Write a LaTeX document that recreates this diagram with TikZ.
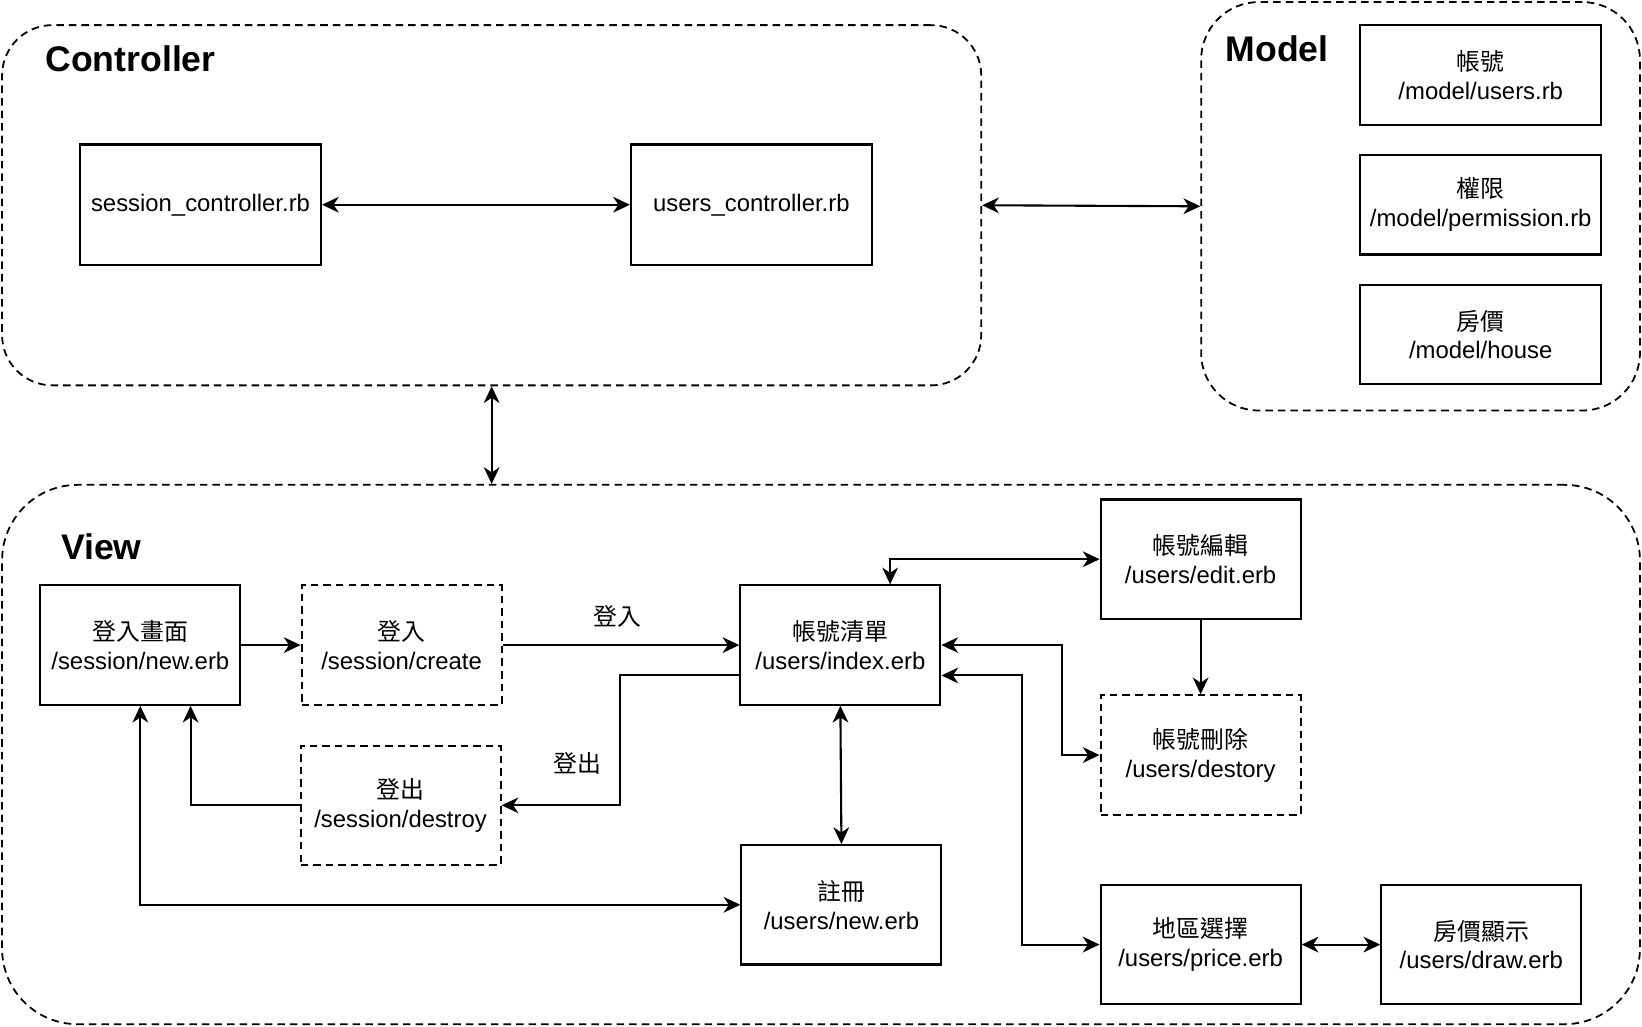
\documentclass[tikz,border=0pt]{standalone}
\usepackage{fontspec}
\setmainfont{Liberation Sans}
\newfontfamily\cjkfont{Noto Sans CJK TC}
\usetikzlibrary{arrows.meta,calc}
\begin{document}
\begin{tikzpicture}[x=0.5pt,y=-0.5pt,
  tip/.tip={Stealth[length=8pt,width=7.5pt,inset=2.5pt]},
  container/.style={draw, line width=0.85pt, dash pattern=on 3.6pt off 2.4pt, inner sep=0pt},
  txt/.style={font=\fontsize{11.4pt}{13.7pt}\selectfont},
  box/.style={draw, line width=1pt, inner sep=0pt, align=center, txt},
  dbox/.style={box, dash pattern=on 3.6pt off 2.4pt},
  vsize/.style={minimum width=95.5pt, minimum height=57pt},
  msize/.style={minimum width=115pt, minimum height=47.5pt},
  csize/.style={minimum width=115pt, minimum height=57.5pt},
  title/.style={anchor=base west, inner sep=0pt, font=\fontsize{17pt}{20pt}\selectfont\bfseries},
  conn/.style={line width=1pt, -tip},
  biconn/.style={line width=1pt, tip-tip},
  lbl/.style={inner sep=0pt, txt}
]
\useasboundingbox (0,0) rectangle (1568,980);

% containers
\node[container, rounded corners=24pt, minimum width=467.5pt, minimum height=172pt] (ctrl) at (469.5,196) {};
\node[container, rounded corners=27.5pt, minimum width=209.5pt, minimum height=195pt] (model) at (1356.5,197) {};
\node[container, rounded corners=36pt, minimum width=782pt, minimum height=257.5pt] (view) at (784,720.5) {};

% titles
\node[title] (tctrl) at (43,68.5) {Controller};
\node[title] (tmodel) at (1170,59) {Model};
\node[title] (tview) at (58,534) {View};

% controller boxes
\node[box, csize] (sc) at (191.5,195.5) {session\_controller.rb};
\node[box, csize] (uc) at (717.5,195.5) {users\_controller.rb};

% model boxes
\node[box, msize] (m1) at (1414,71.5) {{\cjkfont 帳號}\\/model/users.rb};
\node[box, msize] (m2) at (1414,195.5) {{\cjkfont 權限}\\/model/permission.rb};
\node[box, msize] (m3) at (1414,319.5) {{\cjkfont 房價}\\/model/house};

% view boxes
\node[box, vsize] (newerb) at (134,616) {{\cjkfont 登入畫面}\\/session/new.erb};
\node[dbox, vsize] (create) at (383.5,616) {{\cjkfont 登入}\\/session/create};
\node[dbox, vsize] (destroy) at (382.5,769) {{\cjkfont 登出}\\/session/destroy};
\node[box, vsize] (index) at (802.5,616) {{\cjkfont 帳號清單}\\/users/index.erb};
\node[box, vsize] (reg) at (803.5,864) {{\cjkfont 註冊}\\/users/new.erb};
\node[box, vsize] (edit) at (1146.5,534) {{\cjkfont 帳號編輯}\\/users/edit.erb};
\node[dbox, vsize] (del) at (1146.5,721) {{\cjkfont 帳號刪除}\\/users/destory};
\node[box, vsize] (price) at (1146.5,902) {{\cjkfont 地區選擇}\\/users/price.erb};
\node[box, vsize] (drawerb) at (1414.5,902) {{\cjkfont 房價顯示}\\/users/draw.erb};

% connectors
\draw[biconn] (sc.east) -- (uc.west);
\draw[biconn] (ctrl.east) -- (model.west);
\draw[biconn] (ctrl.south) -- (ctrl.south |- view.north);
\draw[conn] (newerb.east) -- (create.west);
\draw[conn] (create.east) -- (index.west);
\node[lbl] (lin) at (590,589) {\cjkfont 登入};
\draw[conn] ($(index.west)+(0,29)$) -- ++(-114,0) |- (destroy.east);
\node[lbl] (lout) at (551,729) {\cjkfont 登出};
\draw[conn] (destroy.west) -| ($(newerb.south)+(48,0)$);
\draw[biconn] (newerb.south) |- (reg.west);
\draw[biconn] (index.south) -- (reg.north);
\draw[biconn] ($(index.north)+(47.5,0)$) |- (edit.west);
\draw[conn] (edit.south) -- (del.north);
\draw[biconn] (index.east) -- ++(115,0) |- (del.west);
\draw[biconn] ($(index.east)+(0,29)$) -- ++(77,0) |- (price.west);
\draw[biconn] (price.east) -- (drawerb.west);
\end{tikzpicture}
\end{document}
